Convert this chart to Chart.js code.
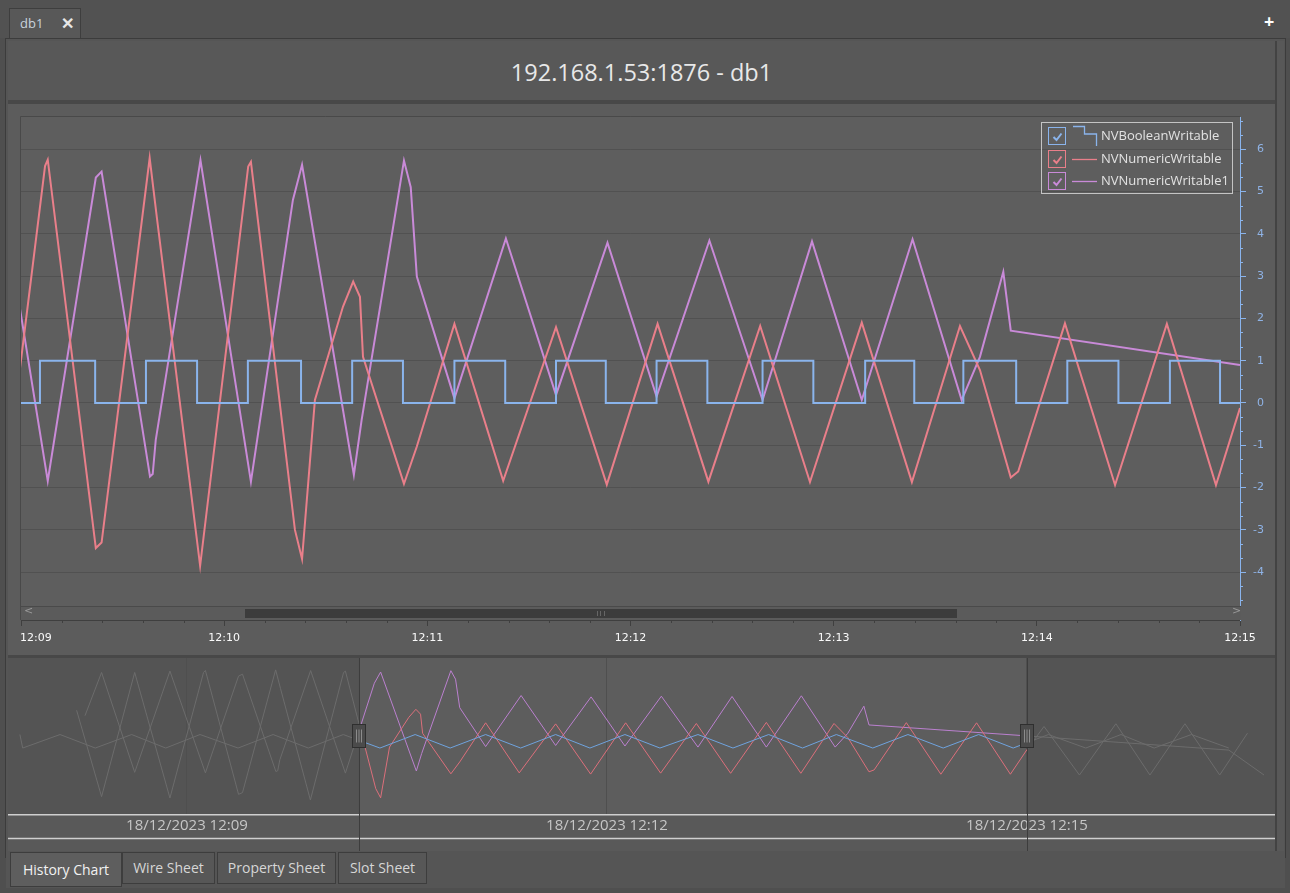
<!DOCTYPE html>
<html>
<head>
<meta charset="utf-8">
<title>db1 - History Chart</title>
<script src="https://cdn.jsdelivr.net/npm/chart.js"></script>
<style>
html, body { margin: 0; padding: 0; }
body { width: 1290px; height: 893px; background: #4f4f4f; position: relative; overflow: hidden; font-family: "Open Sans", sans-serif; }
.abs { position: absolute; }
#topbar { left: 0; top: 0; width: 1290px; height: 38px; background: #525252; }
#doctab { left: 9px; top: 8px; width: 72px; height: 31px; background: #585858; border: 1px solid #3e3e3e; border-bottom: none; box-sizing: border-box; color: #c9d3dc; font-size: 13px; line-height: 28px; }
#doctab .name { position: absolute; left: 10px; }
#doctab .close { position: absolute; left: 51px; font-weight: bold; color: #e6e6e6; font-size: 16px; }
#plus { left: 1264px; top: 9px; color: #fff; font-weight: bold; font-size: 18px; }
#frame { left: 5px; top: 38px; width: 1281px; height: 820px; background: #555; border: 1px solid #3c3c3c; box-sizing: border-box; }
#header { left: 8px; top: 41px; width: 1267px; height: 59px; background: #585858; color: #e8e8e8; font-size: 23.5px; text-align: center; line-height: 62px; }
#sep1 { left: 8px; top: 100px; width: 1267px; height: 4px; background: #484848; }
#mainWrap { left: 8px; top: 104px; width: 1267px; height: 551px; background: #5c5c5c; }
#sep2 { left: 8px; top: 655px; width: 1267px; height: 3px; background: #484848; }
#navWrap { left: 8px; top: 658px; width: 1267px; height: 193px; background: #595959; }
#rightStrip { left: 1275px; top: 41px; width: 9px; height: 810px; background: #585858; border-left: 2px solid #434343; box-sizing: border-box; }
#tabbar { left: 6px; top: 851px; width: 1279px; height: 37px; background: #555; }
.btab { position: absolute; top: 852px; height: 32px; background: #575757; border: 1px solid #3d3d3d; color: #d6d6d6; font-size: 14px; line-height: 30px; text-align: center; box-sizing: border-box; }
.btab.on { height: 35px; background: #5e5e5e; color: #f2f2f2; line-height: 34px; }
#scroll { left: 21px; top: 606px; width: 1220px; height: 14px; background: #5b5b5b; border-top: 1px solid #4a4a4a; box-sizing: border-box; }
#thumb { position: absolute; left: 224px; top: 2px; width: 712px; height: 9px; background: #3c3c3c; }
#grip { position: absolute; left: 352px; top: 2px; width: 6px; height: 5px; border-left: 1px solid #666; border-right: 1px solid #666; }
#grip:after { content: ""; position: absolute; left: 2px; top: 0; width: 1px; height: 5px; background: #666; }
.arrow { position: absolute; top: -3px; color: #9a9a9a; font-size: 11px; font-family: "DejaVu Sans", sans-serif; }
#legend { left: 1041px; top: 122px; width: 192px; height: 72px; border: 1px solid #c4c4c4; box-sizing: border-box; }
.lrow { position: absolute; left: 0; height: 18px; width: 190px; }
.lrow .box { position: absolute; left: 6px; top: 0; width: 18px; height: 18px; box-sizing: border-box; border: 1px solid; background: #5f5f5f; }
.lrow svg { position: absolute; }
.lrow .txt { position: absolute; left: 59px; top: -1px; color: #e2e2e2; font-size: 13px; line-height: 18px; white-space: nowrap; }
</style>
</head>
<body>
<div id="topbar" class="abs"></div>
<div id="doctab" class="abs"><span class="name">db1</span><span class="close">✕</span></div>
<div id="plus" class="abs">+</div>
<div id="frame" class="abs"></div>
<div id="header" class="abs">192.168.1.53:1876 - db1</div>
<div id="sep1" class="abs"></div>
<div id="mainWrap" class="abs"><canvas id="mainChart" width="1267" height="551"></canvas></div>
<div id="sep2" class="abs"></div>
<div id="navWrap" class="abs"><canvas id="navChart" width="1267" height="193"></canvas></div>
<div id="rightStrip" class="abs"></div>
<div id="scroll" class="abs">
  <span class="arrow" style="left:3px">&lt;</span>
  <div id="thumb"><div id="grip"></div></div>
  <span class="arrow" style="left:1211px">&gt;</span>
</div>
<div id="legend" class="abs"></div>
<div id="tabbar" class="abs"></div>
<div class="btab on" style="left:10px;width:112px">History Chart</div>
<div class="btab" style="left:122px;width:93px">Wire Sheet</div>
<div class="btab" style="left:217px;width:119px">Property Sheet</div>
<div class="btab" style="left:338px;width:89px">Slot Sheet</div>

<script>
// time in seconds after 12:09:00 on 18/12/2023
const seriesNames = ['NVBooleanWritable', 'NVNumericWritable', 'NVNumericWritable1'];

const boolTimes = [-71.6, -70.4, -54.4, -39.3, -23.7, -9.1, 5.6, 21.9, 36.9, 52.0, 67.0, 82.7, 97.8, 112.8,
  128.0, 143.0, 158.0, 172.7, 187.7, 202.7, 219.0, 234.0, 249.3, 263.8, 278.3, 293.9, 309.0, 324.1, 339.3, 354.1,
  369.2, 385.2, 400.3, 414.5, 430.5, 446.5];
const boolValues = [1, 0, 1, 0, 1, 0, 1, 0, 1, 0, 1, 0, 1, 0, 1, 0, 1, 0, 1, 0, 1, 0, 1, 0, 1, 0, 1, 0, 1, 0,
  1, 0, 1, 0, 1, 0];

const numTimes = [-47.3, -36.6, -22.4, -7.3, 7.1, 7.9, 22.1, 23.8, 38.0, 40.1, 52.9, 67.1, 67.9, 80.9, 83.0, 86.8,
  95.1, 98.1, 100.1, 101.0, 113.1, 116.9, 128.0, 142.4, 158.0, 173.0, 188.0, 203.0, 218.3, 233.0, 248.3, 263.1,
  277.3, 283.2, 292.3, 294.5, 308.3, 323.1, 338.4, 352.9, 360.0, 367.3, 382.5, 398.1, 412.7, 427.7, 442.6, 454.5];
const numValues = [2.8, -3.6, 5.6, -3.7, 5.6, 5.75, -3.43, -3.3, 5.79, 4.4, -3.85, 5.59, 5.7, -3.0, -3.69, 0.07,
  2.28, 2.87, 2.51, 1.09, -1.91, -1.03, 1.87, -1.84, 1.79, -1.93, 1.87, -1.86, 1.82, -1.87, 1.9, -1.87,
  1.82, 0.78, -1.76, -1.62, 1.88, -1.94, 1.87, -1.94, -0.12, 1.6, -2.0, 1.8, -2.0, 1.8, -2.0, 1.1];

const num1Times = [-43.7, -36.6, -22.4, -7.3, 7.9, 22.1, 23.8, 38.1, 38.9, 39.8, 53.0, 67.9, 80.3, 83.0, 98.3, 100.6,
  113.1, 115.1, 116.9, 128.0, 143.2, 158.0, 173.2, 187.7, 203.3, 219.0, 233.6, 248.3, 263.3, 277.8, 283.2, 290.1,
  292.3, 360.0, 446.5, 461.6];
const num1Values = [2.4, 5.6, -1.8, 5.7, -1.84, 5.33, 5.47, -1.74, -1.68, -0.87, 5.74, -1.86, 4.8, 5.63, -1.7, -0.4,
  5.73, 5.1, 2.99, 0.11, 3.89, 0.19, 3.79, 0.15, 3.84, 0.07, 3.82, 0.07, 3.87, 0.07, 1.09, 3.1,
  1.71, 0.9, -0.15, -2.0];

const minuteLabels = ['12:09', '12:10', '12:11', '12:12', '12:13', '12:14', '12:15'];
const yTickValues = [-4, -3, -2, -1, 0, 1, 2, 3, 4, 5, 6];
const navTickValues = [0, 180, 360];
const navDateLabels = ['18/12/2023 12:09', '18/12/2023 12:12', '18/12/2023 12:15'];
const navWindow = [73.7, 360];

const lineColors = ['#8ab4ec', '#e97f8a', '#c98ad8'];
const navColors = ['#6fa3de', '#dc6f7b', '#bb80cf'];
const navGray = '#6c6c6c';

function toPoints(times, values) {
  return times.map((t, i) => ({ x: t, y: values[i] }));
}
const seriesPoints = [
  toPoints(boolTimes, boolValues),
  toPoints(numTimes, numValues),
  toPoints(num1Times, num1Values)
];

// legend
const legendEl = document.getElementById('legend');
seriesNames.forEach((name, i) => {
  const row = document.createElement('div');
  row.className = 'lrow';
  row.style.top = (4 + i * 22.7) + 'px';
  const c = lineColors[i];
  const sample = i === 0
    ? '<svg style="left:30px;top:-2px" width="26" height="22"><path d="M1 1.5 H12.5 V9 H24.5 V21" fill="none" stroke="' + c + '" stroke-width="1.3"/></svg>'
    : '<svg style="left:30px;top:8px" width="26" height="3"><line x1="0" y1="1.5" x2="25" y2="1.5" stroke="' + c + '" stroke-width="1.3"/></svg>';
  row.innerHTML =
    '<div class="box" style="border-color:' + c + '"><svg style="left:2px;top:2px" width="13" height="13">' +
    '<polyline points="2.5,7 5.5,10 10.5,3.5" fill="none" stroke="' + c + '" stroke-width="2"/></svg></div>' +
    sample + '<span class="txt">' + name + '</span>';
  legendEl.appendChild(row);
});

const plotFrame = {
  id: 'plotFrame',
  beforeDraw(chart) {
    const { ctx, chartArea: a } = chart;
    ctx.save();
    ctx.fillStyle = '#5e5e5e';
    ctx.fillRect(a.left, a.top, a.width, a.height);
    ctx.strokeStyle = '#494949';
    ctx.lineWidth = 1;
    ctx.beginPath();
    ctx.moveTo(a.left - 0.5, a.bottom);
    ctx.lineTo(a.left - 0.5, a.top - 0.5);
    ctx.lineTo(a.right, a.top - 0.5);
    ctx.stroke();
    ctx.restore();
  },
  afterDraw(chart) {
    const { ctx, chartArea: a, scales: { x, y } } = chart;
    ctx.save();
    ctx.lineWidth = 1;
    // minor time ticks, every 12 s
    ctx.strokeStyle = '#3f3f3f';
    for (let k = 1; k < 30; k++) {
      if (k % 5 === 0) continue;
      const px = Math.round(x.getPixelForValue(k * 12)) + 0.5;
      ctx.beginPath();
      ctx.moveTo(px, a.bottom);
      ctx.lineTo(px, a.bottom + 3);
      ctx.stroke();
    }
    // minor value ticks, every 1/3
    ctx.strokeStyle = lineColors[0];
    for (let k = -15; k <= 21; k++) {
      if (k % 3 === 0) continue;
      const py = Math.round(y.getPixelForValue(k / 3)) + 0.5;
      if (py < a.top || py > a.bottom - 16) continue;
      ctx.beginPath();
      ctx.moveTo(a.right, py);
      ctx.lineTo(a.right + 3, py);
      ctx.stroke();
    }
    // time labels (first one starts at its tick)
    ctx.font = '11px "DejaVu Sans"';
    ctx.fillStyle = '#fafafa';
    ctx.textBaseline = 'middle';
    minuteLabels.forEach((label, i) => {
      const px = x.getPixelForValue(i * 60);
      ctx.textAlign = i === 0 ? 'left' : 'center';
      ctx.fillText(label, i === 0 ? px - 1 : px, a.bottom + 18);
    });
    ctx.restore();
  }
};

new Chart(document.getElementById('mainChart'), {
  type: 'line',
  data: {
    datasets: seriesNames.map((name, i) => ({
      label: name,
      data: seriesPoints[i],
      borderColor: lineColors[i],
      borderWidth: 2,
      pointRadius: 0,
      stepped: i === 0,
      tension: 0
    }))
  },
  options: {
    responsive: false,
    animation: false,
    layout: { padding: { left: 13, top: 13, right: 11, bottom: 0 } },
    plugins: { legend: { display: false }, tooltip: { enabled: false } },
    scales: {
      x: {
        type: 'linear',
        min: 0,
        max: 360,
        afterFit: (s) => { s.height = 35; },
        ticks: { display: false, stepSize: 60 },
        grid: { drawOnChartArea: false, tickLength: 6, tickColor: '#3f3f3f' },
        border: { color: '#3f3f3f' }
      },
      y: {
        type: 'linear',
        position: 'right',
        min: -5.13,
        max: 6.76,
        afterFit: (s) => { s.width = 24; },
        afterBuildTicks: (s) => { s.ticks = yTickValues.map(v => ({ value: v })); },
        ticks: {
          color: '#8fb3e6',
          font: { family: 'DejaVu Sans', size: 11 },
          padding: 4,
          crossAlign: 'far',
          callback: (v) => String(v)
        },
        grid: { color: '#515151', tickColor: lineColors[0], tickLength: 6 },
        border: { color: lineColors[0] }
      }
    }
  },
  plugins: [plotFrame]
});

// overview (navigator) below the chart
function navClip(chart) {
  const { chartArea: a, scales: { x } } = chart;
  return { a, x0: x.getPixelForValue(navWindow[0]), x1: x.getPixelForValue(navWindow[1]) };
}
const navShade = {
  id: 'navShade',
  beforeDraw(chart) {
    const { ctx } = chart;
    const { a, x0, x1 } = navClip(chart);
    ctx.save();
    ctx.fillStyle = '#545454';
    ctx.fillRect(a.left, a.top, x0 - a.left, a.height);
    ctx.fillRect(x1, a.top, a.right - x1, a.height);
    ctx.fillStyle = '#5d5d5d';
    ctx.fillRect(x0, a.top, x1 - x0, a.height);
    ctx.restore();
  },
  beforeDatasetDraw(chart, args) {
    const { ctx } = chart;
    const { a, x0, x1 } = navClip(chart);
    const part = chart.data.datasets[args.index].navPart;
    ctx.save();
    ctx.beginPath();
    if (part === 'in') {
      ctx.rect(x0, a.top, x1 - x0, a.height);
    } else {
      ctx.rect(a.left, a.top, x0 - a.left, a.height);
      ctx.rect(x1, a.top, a.right - x1, a.height);
    }
    ctx.clip();
  },
  afterDatasetDraw(chart) {
    chart.ctx.restore();
  },
  afterDraw(chart) {
    const { ctx } = chart;
    const { a, x0, x1 } = navClip(chart);
    ctx.save();
    ctx.strokeStyle = '#cfcfcf';
    ctx.lineWidth = 1.5;
    ctx.beginPath();
    ctx.moveTo(a.left, a.bottom + 23.5);
    ctx.lineTo(a.right, a.bottom + 23.5);
    ctx.stroke();
    ctx.strokeStyle = '#3d3d3d';
    ctx.lineWidth = 1;
    [x0, x1].forEach(px => {
      const p = Math.round(px) + 0.5;
      ctx.beginPath();
      ctx.moveTo(p, 0);
      ctx.lineTo(p, chart.height);
      ctx.stroke();
    });
    // drag handles
    [x0, x1].forEach(px => {
      const hx = Math.round(px) - 6.5, hy = 66.5;
      ctx.fillStyle = '#4b4b4b';
      ctx.fillRect(hx, hy, 13, 23);
      ctx.strokeStyle = '#2f2f2f';
      ctx.strokeRect(hx, hy, 13, 23);
      ctx.strokeStyle = '#8c8c8c';
      for (let k = 0; k < 3; k++) {
        ctx.beginPath();
        ctx.moveTo(hx + 4 + k * 2.5, hy + 5);
        ctx.lineTo(hx + 4 + k * 2.5, hy + 18);
        ctx.stroke();
      }
    });
    ctx.restore();
  }
};

const navDatasets = [];
seriesNames.forEach((name, i) => {
  navDatasets.push({ label: name, navPart: 'out', data: seriesPoints[i], borderColor: navGray, borderWidth: 1, pointRadius: 0 });
});
seriesNames.forEach((name, i) => {
  navDatasets.push({ label: name, navPart: 'in', data: seriesPoints[i], borderColor: navColors[i], borderWidth: 1, pointRadius: 0 });
});

new Chart(document.getElementById('navChart'), {
  type: 'line',
  data: { datasets: navDatasets },
  options: {
    responsive: false,
    animation: false,
    layout: { padding: 0 },
    plugins: { legend: { display: false }, tooltip: { enabled: false } },
    scales: {
      x: {
        type: 'linear',
        min: -76.7,
        max: 466.3,
        afterFit: (s) => { s.height = 36; },
        afterBuildTicks: (s) => { s.ticks = navTickValues.map(v => ({ value: v })); },
        ticks: {
          color: '#c6c6c6',
          font: { family: 'Open Sans', size: 15 },
          padding: 2,
          maxRotation: 0,
          autoSkip: false,
          callback: (v, i) => navDateLabels[i]
        },
        grid: { color: '#4f4f4f', drawTicks: false },
        border: { color: '#cfcfcf', width: 1.5 }
      },
      y: { display: false, min: -4.96, max: 6.67 }
    }
  },
  plugins: [navShade]
});
</script>
</body>
</html>
